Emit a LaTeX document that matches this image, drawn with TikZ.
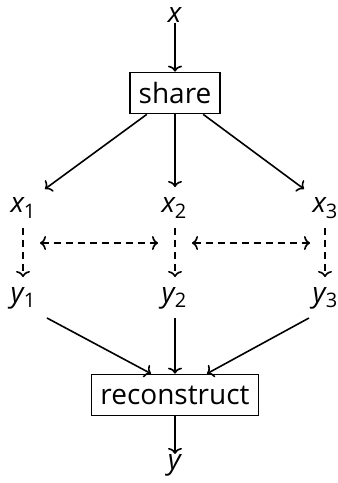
\documentclass[tikz,border=0pt]{standalone}
\usepackage{fontspec}
\setmainfont{Open Sans}
\usetikzlibrary{arrows.meta}
\newcommand{\var}[2]{\textit{#1}\kern-1pt\raisebox{-0.35ex}{\fontsize{20}{20}\selectfont #2}}
\begin{document}
\begin{tikzpicture}[x=1pt,y=-1pt,
  every node/.style={font=\fontsize{28}{30}\selectfont, inner sep=0pt},
  proc/.style={draw, line width=1.7pt, minimum height=41pt, inner xsep=9pt},
  lab/.style={anchor=center},
  arr/.style={line width=1.6pt, -{To[length=6pt,width=14pt]}},
  darr/.style={arr, dash pattern=on 7pt off 5pt},
  dboth/.style={line width=1.6pt, {To[length=6pt,width=14pt]}-{To[length=6pt,width=14pt]}, dash pattern=on 7pt off 5pt}]
\useasboundingbox (0,0) rectangle (338,483);
\node[lab] (x) at (175,15) {\textit{x}};
\node[proc] (share) at (175,93) {share};
\node[lab] (x1) at (23,208) {\var{x}{1}};
\node[lab] (x2) at (174,208) {\var{x}{2}};
\node[lab] (x3) at (325,208) {\var{x}{3}};
\node[lab] (y1) at (23,298) {\var{y}{1}};
\node[lab] (y2) at (174,298) {\var{y}{2}};
\node[lab] (y3) at (325,298) {\var{y}{3}};
\node[proc] (rec) at (175,395) {reconstruct};
\node[lab] (y) at (175,465) {\textit{y}};
% share stage
\coordinate (t1) at (45,189);
\coordinate (t2) at (175,187);
\coordinate (t3) at (304,189);
\draw[arr] (x) -- (share);
\draw[arr] ([xshift=18pt]share.south west) -- (t1);
\draw[arr] (share) -- (t2);
\draw[arr] ([xshift=-18pt]share.south east) -- (t3);
% local computation
\coordinate (a1) at (23,228); \coordinate (b1) at (23,277);
\coordinate (a2) at (175,228); \coordinate (b2) at (175,277);
\coordinate (a3) at (325,228); \coordinate (b3) at (325,277);
\draw[darr] (a1) -- (b1);
\draw[darr] (a2) -- (b2);
\draw[darr] (a3) -- (b3);
\coordinate (h1) at (40,243); \coordinate (h2) at (158,243);
\coordinate (h3) at (192,243); \coordinate (h4) at (310,243);
\draw[dboth] (h1) -- (h2);
\draw[dboth] (h3) -- (h4);
% reconstruction stage
\coordinate (u1) at (47,318); \coordinate (u2) at (175,318); \coordinate (u3) at (309,318);
\draw[arr] (u1) -- ([xshift=-24pt]rec.north);
\draw[arr] (u2) -- (rec);
\draw[arr] (u3) -- ([xshift=32pt]rec.north);
\draw[arr] (rec) -- (y);
\end{tikzpicture}
\end{document}
